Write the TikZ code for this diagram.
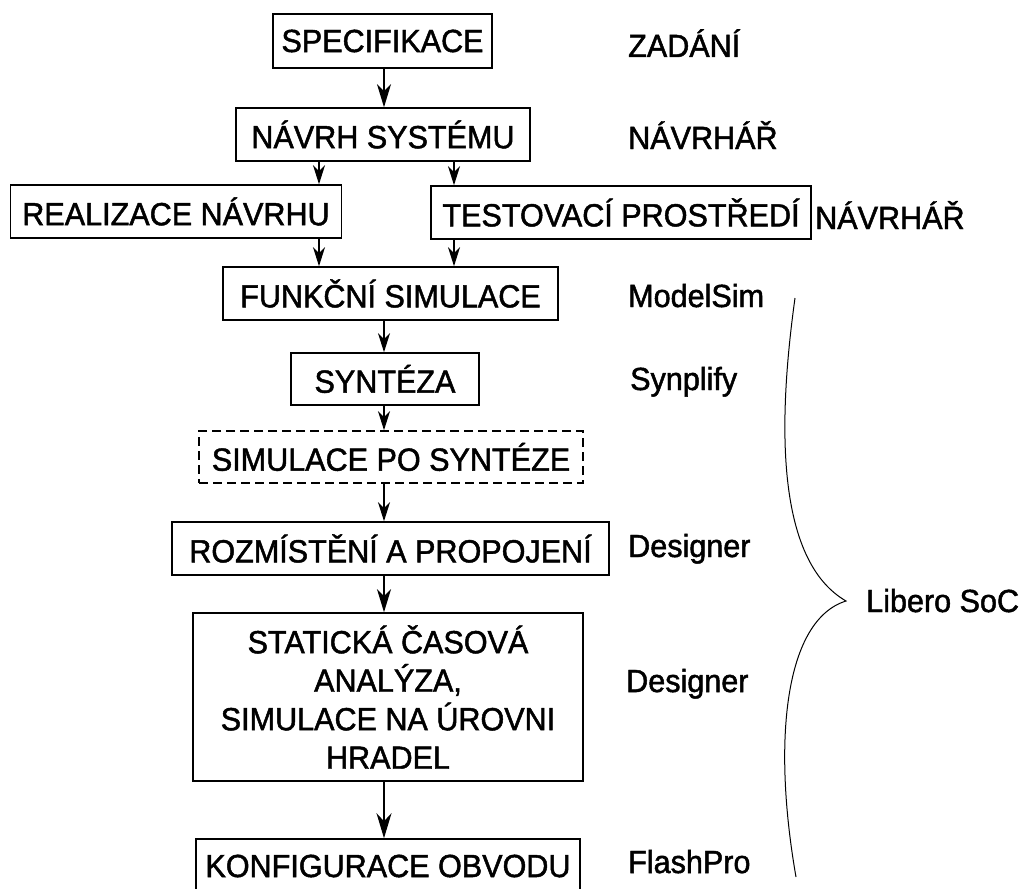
\documentclass[tikz,border=0pt]{standalone}
\usepackage{fontspec}
\setmainfont{Liberation Sans}[FakeStretch=0.955, FakeBold=1.5]
\usetikzlibrary{arrows.meta}
\begin{document}
\begin{tikzpicture}[x=1pt,y=-1pt,
  txt/.style={font=\fontsize{32}{38.5}\selectfont},
  box/.style={txt, draw, line width=1.6pt, inner sep=0pt, minimum height=53pt, align=center},
  dashbox/.style={box, dash pattern=on 9pt off 5pt},
  lbl/.style={txt, anchor=base west, inner sep=0pt},
  arr/.style={line width=1.2pt, -{Stealth[length=19pt,width=12pt,inset=6pt]}},
  bigarr/.style={line width=1.2pt, -{Stealth[length=23pt,width=14pt,inset=7pt]}}]
\useasboundingbox (0,0) rectangle (1019,888);

% flow boxes
\node[box, minimum width=219pt, minimum height=54pt] (spec)  at (382.5,41)  {SPECIFIKACE};
\node[box, minimum width=294pt] (navrh) at (383,134.5) {NÁVRH SYSTÉMU};
\node[box, minimum width=331pt] (realiz) at (176,211.5) {REALIZACE NÁVRHU};
\node[box, minimum width=380pt] (test)  at (621,212.5) {TESTOVACÍ PROSTŘEDÍ};
\node[box, minimum width=335pt] (funk)  at (390.5,293.5) {FUNKČNÍ SIMULACE};
\node[box, minimum width=188pt, minimum height=52pt] (synt) at (385,379) {SYNTÉZA};
\node[dashbox, minimum width=384pt, minimum height=52pt] (post) at (391,457) {SIMULACE PO SYNTÉZE};
\node[box, minimum width=437pt] (rozm)  at (390.5,548.5) {ROZMÍSTĚNÍ A PROPOJENÍ};
\node[box, minimum width=390pt, minimum height=168pt] (sta) at (388,697)
  {STATICKÁ ČASOVÁ\\ANALÝZA,\\SIMULACE NA ÚROVNI\\HRADEL};
\node[box, minimum width=384pt, minimum height=54pt] (konf) at (388,866) {KONFIGURACE OBVODU};

% tool / role labels
\node[lbl] (zad)  at (628,57)  {ZADÁNÍ};
\node[lbl] (nav1) at (628,149) {NÁVRHÁŘ};
\node[lbl] (nav2) at (815,229) {NÁVRHÁŘ};
\node[lbl] (msim) at (628,307) {ModelSim};
\node[lbl] (syn)  at (630,390) {Synplify};
\node[lbl] (des1) at (628,557) {Designer};
\node[lbl] (des2) at (626,692) {Designer};
\node[lbl] (fpro) at (628,873) {FlashPro};
\node[lbl] (lib)  at (866,612) {Libero SoC};

% arrow columns
\coordinate (cM) at (384,0);
\coordinate (cL) at (319,0);
\coordinate (cR) at (454,0);

\draw[bigarr] (spec.south -| cM) -- (navrh.north -| cM);
\draw[arr] (navrh.south -| cL) -- (realiz.north -| cL);
\draw[arr] (navrh.south -| cR) -- (test.north -| cR);
\draw[arr] (realiz.south -| cL) -- (funk.north -| cL);
\draw[arr] (test.south -| cR) -- (funk.north -| cR);
\draw[arr] (funk.south -| cM) -- (synt.north -| cM);
\draw[arr] (synt.south -| cM) -- (post.north -| cM);
\draw[arr] (post.south -| cM) -- (rozm.north -| cM);
\draw[bigarr] (rozm.south -| cM) -- (sta.north -| cM);
\draw[line width=1.2pt, -{Stealth[length=25pt,width=15pt,inset=8pt]}] (sta.south -| cM) -- (konf.north -| cM);

% brace grouping the Libero SoC tools
\coordinate (brTop) at (795,298);
\coordinate (brTip) at (846,601);
\coordinate (brBot) at (796,877);
\draw[line width=1pt] (brTop) .. controls (778,420) and (775,560) .. (brTip)
  .. controls (785,620) and (772,740) .. (brBot);
\end{tikzpicture}
\end{document}
